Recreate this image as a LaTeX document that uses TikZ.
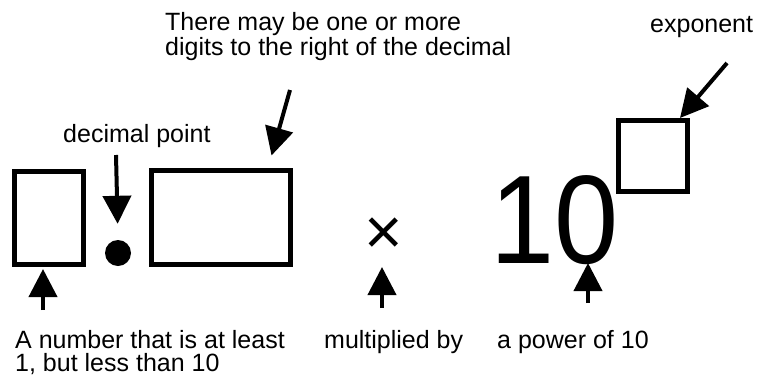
\documentclass[tikz,border=0pt]{standalone}
\usepackage{fontspec}
\setmainfont{Liberation Sans}
\usetikzlibrary{arrows.meta}
\begin{document}
\begin{tikzpicture}[x=1pt,y=-1pt,
  slot/.style={draw,line width=5pt,inner sep=0pt},
  pointer/.style={line width=4pt,-{Triangle[length=28pt,width=28pt]}},
  note/.style={inner sep=0pt,align=left,font=\fontsize{25}{23}\selectfont}]
\useasboundingbox (0,0) rectangle (760,381);
\node[slot,minimum width=69pt,minimum height=93pt] (lead) at (49,218) {};        % the first digit
\node[circle,fill,minimum size=26pt,inner sep=0pt] (point) at (118,253) {};     % the decimal point
\node[slot,minimum width=139pt,minimum height=94pt] (digits) at (221,217.5) {}; % the other digits
\node[anchor=base,inner sep=0pt,font=\fontsize{66}{66}\selectfont] (times) at (384,254) {×};
\node[anchor=base west,inner sep=0pt,font=\fontsize{126}{126}\selectfont] (ten) at (490,263) {\scalebox{0.915}[1]{10}};
\node[slot,minimum width=69pt,minimum height=71pt] (expbox) at (653,156) {};     % the exponent
% the labels (base of a two-line label is its last line)
\node[note,anchor=base west] (digitsnote) at (165,55) {There may be one or more\\digits to the right of the decimal};
\node[note,anchor=base west] (expnote) at (650,32) {exponent};
\node[note,anchor=base west] (pointnote) at (63,142) {decimal point};
\node[note,anchor=base west] (leadnote) at (15,371) {A number that is at least\\1, but less than 10};
\node[note,anchor=base west] (timesnote) at (324,348) {multiplied by};
\node[note,anchor=base west] (tennote) at (497,348) {a power of 10};
% the arrows
\coordinate (pointtail) at (116,155);
\coordinate (digitstail) at (290,90);
\coordinate (exptail) at (727,63);
\coordinate (leadtail) at (43,310);
\coordinate (timestail) at (382,308);
\coordinate (tentail) at (588,303);
\draw[pointer,shorten >=16pt] (pointtail) -- (point.north);
\draw[pointer,shorten >=13pt] (digitstail) -- ([xshift=47pt]digits.north);
\draw[pointer] (exptail) -- ([xshift=-10pt]expbox.north east);
\draw[pointer,shorten >=2pt] (leadtail) -- (lead.south -| leadtail);
\draw[pointer,shorten >=13pt] (timestail) -- (times.base -| timestail);
\draw[pointer] (tentail) -- (ten.base -| tentail);
\end{tikzpicture}
\end{document}
